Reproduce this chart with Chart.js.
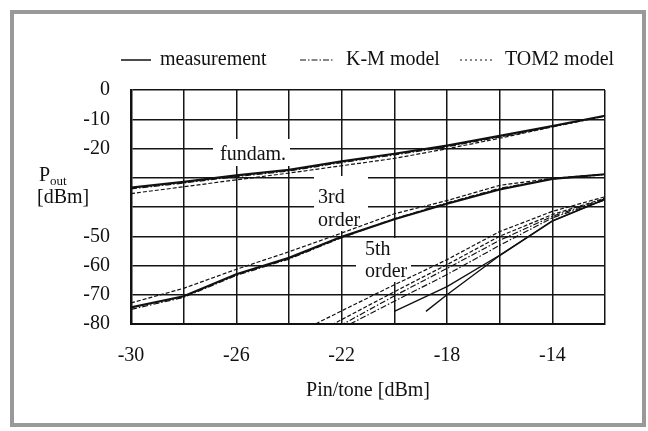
<!DOCTYPE html>
<html><head><meta charset="utf-8">
<script src="https://cdn.jsdelivr.net/npm/chart.js@4.4.0/dist/chart.umd.min.js"></script>
<style>html,body{margin:0;padding:0;background:#fff;}#wrap{width:648px;height:431px;}</style>
</head><body><div id="wrap"><canvas id="c" width="648" height="431"></canvas></div>
<script>
// input power per tone [dBm]
const pin = [-30, -28, -26, -24, -22, -20, -18, -16, -14, -12];

// fundamental
const fundMeas = [-33.4, -31.4, -29.2, -27.3, -24.4, -21.8, -19.0, -15.7, -12.3, -8.8];
const fundKM   = [-33.8, -31.8, -29.6, -27.7, -24.8, -22.2, -19.4, -16.1, -12.6, -9.0];
const fundTOM2 = [-35.4, -33.1, -30.7, -28.4, -25.9, -23.4, -20.1, -16.5, -12.6, -8.8];

// 3rd order intermodulation
const im3Meas = [-74.3, -70.5, -63.0, -57.4, -50.2, -44.2, -38.9, -34.0, -30.4, -28.8];
const im3KM   = [-75.0, -70.9, -63.4, -57.8, -50.5, -44.0, -38.6, -33.6, -30.4, -28.9];
const im3TOM2 = [-72.8, -67.8, -61.3, -55.3, -48.9, -42.3, -37.8, -32.6, -30.2, -28.8];

// 5th order intermodulation
const im5MeasA = [null, null, null, null, null, -75.7, -67.2, -56.5, -44.7, -37.3];
const im5MeasBX = [-18.8, -18, -16, -14, -12];
const im5MeasB  = [-75.7, -70.0, -56.6, -44.8, -37.4];
const im5TOM2a = [null, null, null, -84.5, -75.5, -66.6, -58.0, -48.4, -41.5, -36.5];
const im5TOM2b = [null, null, null, -88.0, -78.5, -69.0, -59.7, -50.0, -42.6, -37.0];
const im5KMa   = [null, null, null, -90.0, -80.3, -70.4, -61.0, -51.4, -43.2, -37.2];
const im5KMb   = [null, null, null, -91.0, -81.5, -72.2, -63.1, -53.1, -43.7, -37.6];

const xTickLabels = ['-30', '-26', '-22', '-18', '-14'];
const yTickLabels = ['0', '-10', '-20', '-50', '-60', '-70', '-80'];

const legendItems = ['measurement', 'K-M model', 'TOM2 model'];

const FONT = '"Liberation Serif", "Times New Roman", serif';
const INK = '#111';
const DASH_KM = [6, 2, 1.5, 2];
const DASH_TOM = [4, 2];

function pts(xs, ys) {
  const out = [];
  for (let i = 0; i < xs.length; i++) if (ys[i] !== null) out.push({x: xs[i], y: ys[i]});
  return out;
}
function ds(xs, ys, width, dash) {
  return {data: pts(xs, ys), borderColor: INK, borderWidth: width, borderDash: dash,
          pointRadius: 0, fill: false, tension: 0, spanGaps: false};
}

const datasets = [
  ds(pin, fundTOM2, 1.2, DASH_TOM),
  ds(pin, fundKM, 1.2, DASH_KM),
  ds(pin, fundMeas, 2.2, []),
  ds(pin, im3TOM2, 1.2, DASH_TOM),
  ds(pin, im3KM, 1.2, DASH_KM),
  ds(pin, im3Meas, 2.2, []),
  ds(pin, im5TOM2a, 1.2, DASH_TOM),
  ds(pin, im5TOM2b, 1.2, DASH_TOM),
  ds(pin, im5KMa, 1.2, DASH_KM),
  ds(pin, im5KMb, 1.2, DASH_KM),
  ds(pin, im5MeasA, 1.4, []),
  ds(im5MeasBX, im5MeasB, 1.4, [])
];

const decor = {
  id: 'decor',
  beforeDraw(chart) {
    const ctx = chart.ctx;
    ctx.save();
    ctx.fillStyle = '#fff';
    ctx.fillRect(0, 0, chart.width, chart.height);
    ctx.strokeStyle = '#999';
    ctx.lineWidth = 4;
    ctx.strokeRect(12, 12, 632, 413);
    ctx.restore();
  },
  beforeDatasetsDraw(chart) {
    const ctx = chart.ctx;
    ctx.save();
    ctx.fillStyle = '#fff';
    ctx.fillRect(213, 139, 77, 27);
    ctx.fillRect(314, 176, 54, 55);
    ctx.fillRect(356, 238, 55, 44);
    ctx.fillStyle = INK;
    ctx.font = '20px ' + FONT;
    ctx.textBaseline = 'alphabetic';
    ctx.textAlign = 'left';
    ctx.fillText('fundam.', 220, 160);
    ctx.fillText('3rd', 318, 203);
    ctx.fillText('order', 318, 226);
    ctx.fillText('5th', 365, 255);
    ctx.fillText('order', 365, 277);
    ctx.restore();
  },
  afterDraw(chart) {
    const ctx = chart.ctx;
    ctx.save();
    ctx.fillStyle = INK;
    ctx.strokeStyle = INK;
    // legend
    const ly = 60;
    ctx.lineWidth = 1.5;
    ctx.beginPath(); ctx.moveTo(121, ly); ctx.lineTo(151, ly); ctx.stroke();
    ctx.lineWidth = 1.2;
    ctx.setLineDash(DASH_KM);
    ctx.beginPath(); ctx.moveTo(300, ly); ctx.lineTo(333, ly); ctx.stroke();
    ctx.setLineDash([2, 3]);
    ctx.beginPath(); ctx.moveTo(460, ly); ctx.lineTo(493, ly); ctx.stroke();
    ctx.setLineDash([]);
    ctx.font = '20px ' + FONT;
    ctx.textBaseline = 'middle';
    ctx.textAlign = 'left';
    ctx.fillText(legendItems[0], 160, ly);
    ctx.fillText(legendItems[1], 346, ly);
    ctx.fillText(legendItems[2], 505, ly);
    // y-axis label
    ctx.textBaseline = 'alphabetic';
    ctx.fillText('P', 39, 181);
    const pw = ctx.measureText('P').width;
    ctx.font = '13px ' + FONT;
    ctx.fillText('out', 39 + pw, 185);
    ctx.font = '20px ' + FONT;
    ctx.fillText('[dBm]', 37, 203);
    ctx.restore();
  }
};

new Chart(document.getElementById('c'), {
  type: 'line',
  data: {datasets},
  options: {
    responsive: false,
    animation: false,
    devicePixelRatio: 1,
    layout: {padding: {left: 0, top: 90, right: 43, bottom: 0}},
    plugins: {legend: {display: false}, tooltip: {enabled: false}},
    scales: {
      x: {
        type: 'linear', min: -30, max: -12,
        afterFit(s) { s.height = 107; },
        ticks: {
          stepSize: 2, autoSkip: false, maxRotation: 0, padding: 20,
          color: INK, font: {family: FONT, size: 20},
          callback: v => xTickLabels.includes(String(v)) ? String(v) : ''
        },
        grid: {color: '#151515', lineWidth: 1.5, drawTicks: false},
        border: {display: true, color: INK, width: 2},
        title: {display: true, text: 'Pin/tone [dBm]', color: INK,
                font: {family: FONT, size: 20}, padding: {top: 0, bottom: 28}}
      },
      y: {
        type: 'linear', min: -80, max: 0,
        afterFit(s) { s.width = 131; },
        ticks: {
          stepSize: 10, padding: 21, color: INK, font: {family: FONT, size: 20},
          callback: v => yTickLabels.includes(String(v)) ? String(v) : ''
        },
        grid: {color: '#151515', lineWidth: 1.5, drawTicks: false},
        border: {display: true, color: INK, width: 2.5}
      }
    }
  },
  plugins: [decor]
});
</script>
</body></html>
